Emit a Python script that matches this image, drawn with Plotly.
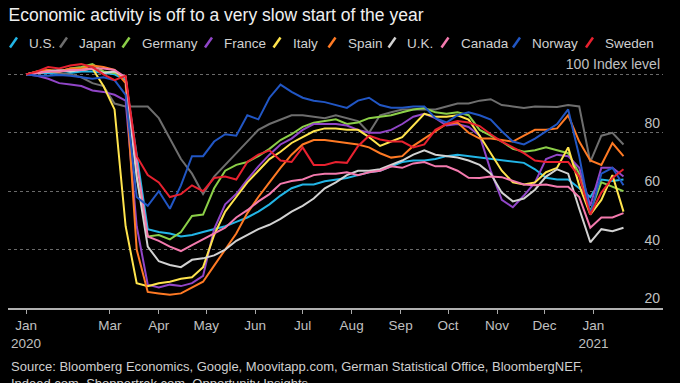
import pandas as pd
import plotly.graph_objects as go

# weekly observation dates (first observation 2020-01-08, last 2021-01-20)
DATES = pd.date_range("2020-01-08", periods=55, freq="7D")

COUNTRIES = ["U.S.", "Japan", "Germany", "France", "Italy", "Spain", "U.K.", "Canada", "Norway", "Sweden"]
COLORS = ["#22b5e6", "#6e6e6e", "#8ccf48", "#9146c8", "#ffe44d", "#ff7a24", "#d2d2d2", "#f47aae", "#2156c4", "#e8212f"]

US = [100, 100.5, 100.5, 100, 100.5, 101, 101, 100.5, 100, 98,
      72, 47, 46, 45.5, 44.5, 45, 46, 47, 48, 49.5,
      51, 53, 55.5, 58.5, 61, 62.3, 62.3, 63.4, 64, 64.5,
      65.5, 66.5, 67, 68.5, 70, 70.5, 70.5, 71, 72, 72.5,
      72, 71.5, 71, 70.5, 70, 69.7, 67.5, 64.6, 64, 64,
      61, 58, 64, 63.5, 64]
JAPAN = [100, 100.5, 101, 100.5, 100, 99, 97, 96, 90, 89,
         89, 89, 85, 78, 71, 66, 59, 65, 69, 73,
         77, 81, 83, 84.5, 86, 86, 85.5, 85, 86, 85,
         84, 80, 86, 87, 88, 88, 88, 88, 89, 90,
         90, 91, 91.5, 89.5, 89, 88.5, 89, 89, 88.8, 89.5,
         89, 70, 79, 80, 76]
GERMANY = [100, 101, 101.5, 101, 102, 102.5, 103.5, 101, 100.5, 99,
           65, 44.5, 45, 43.5, 46, 51.5, 52, 61, 67, 69,
           70, 72, 74.5, 77.5, 79.5, 82, 83.4, 84, 84.6, 83,
           83.5, 85, 85.5, 86, 87, 88, 88.5, 87, 86.5, 87,
           86, 81, 79, 77, 74.5, 73.5, 74, 75, 74, 73,
           66, 53, 63, 61.5, 60]
FRANCE = [100, 99.5, 98.5, 97, 96.5, 96, 94.5, 94, 93, 91,
          48, 28, 27, 28, 27.5, 28.5, 31, 47, 55.5, 59,
          64, 68.5, 72.5, 76, 78, 81, 83, 83, 83, 82.5,
          81, 80, 80, 81, 83, 85.5, 86.5, 85, 82.5, 83,
          82, 79, 67, 57, 54.5, 58.5, 63, 71, 72.5, 72,
          68, 55, 68, 68, 65]
ITALY = [100, 100.5, 101, 101, 101.5, 101.5, 102, 96, 88, 48,
         28.5, 27.5, 28.5, 29, 30, 30.5, 34, 45, 53, 58,
         63, 67, 71, 73.5, 76.5, 78.5, 80.5, 81.5, 81.5, 81,
         81, 78.5, 75.5, 77, 78.5, 82.5, 86.5, 85.5, 85.5, 86,
         84.5, 79, 73, 67, 63, 62.3, 63, 66.5, 68, 75,
         62, 52, 57, 65.5, 53]
SPAIN = [100, 101, 101.5, 101, 102, 102, 103, 102.5, 101.5, 97,
         40, 25.5, 25, 24.5, 25, 27, 29, 34.5, 40, 45.5,
         52.5, 58, 63, 68, 72.5, 76, 77.5, 77.5, 77, 76.5,
         76, 75, 73, 71.5, 72, 75.5, 78, 80.5, 83, 83.5,
         80, 78, 78, 77.5, 77, 79, 81, 81, 81.5, 86,
         77, 70.5, 69, 76.5, 72]
UK = [100, 100.5, 101, 101.5, 101, 101.5, 102, 100.5, 101, 99,
      65, 41, 36, 34.7, 34, 36.5, 37, 38, 40, 43,
      45, 47, 48.5, 50.5, 53, 55, 57.5, 61, 63, 65.5,
      67, 67, 67.5, 69, 70.5, 72.5, 74, 72.5, 72, 71.5,
      70.5, 69, 66, 59.5, 56.5, 57.5, 60.5, 65, 67.5, 66,
      54, 42.5, 47, 46.3, 47.5]
CANADA = [100, 100.5, 101, 101, 101.5, 101.5, 102, 102, 101.5, 99,
          70, 44.5, 43, 41, 39.5, 41.5, 43.5, 45.5, 47.5, 51,
          53.5, 56.5, 59, 62.5, 63.5, 64, 65.5, 66, 66, 66.5,
          65.5, 66.5, 67, 68.5, 68, 69.5, 70, 68.5, 68.5, 67,
          64.6, 64.5, 65, 64.8, 63.5, 62.3, 62, 62.3, 61.5, 61.5,
          58, 47.5, 51, 51, 52.5]
NORWAY = [100, 99.5, 99.5, 99.8, 99.5, 99, 98.5, 99, 98, 93,
          58, 55, 60, 54, 62, 72, 72, 77, 79.5, 79,
          86, 84.6, 92, 96.5, 94, 92, 91, 90.5, 89.5, 88.5,
          91, 92, 89.5, 88.6, 88.6, 89, 89, 85, 83.5, 86,
          87, 86, 84.5, 80.5, 77, 76, 78, 80.5, 83, 88,
          72, 52, 66, 68, 62]
SWEDEN = [100, 101, 102.5, 102, 103, 103.5, 102.5, 100, 98, 99.5,
          72, 65.5, 63, 58, 59, 62, 60, 64.5, 65, 64,
          70, 72.5, 74, 70.5, 70, 75, 69, 69, 70, 69.7,
          75.4, 79, 77.7, 77, 77, 75, 76, 81, 83, 84,
          83.5, 82.3, 79.5, 77, 75, 73, 70.5, 70, 70, 70,
          65, 52, 59.5, 64.5, 67.5]

SERIES = [US, JAPAN, GERMANY, FRANCE, ITALY, SPAIN, UK, CANADA, NORWAY, SWEDEN]

X_TICKVALS = ["2020-01-08", "2020-03-01", "2020-04-01", "2020-05-01", "2020-06-01", "2020-07-01",
              "2020-08-01", "2020-09-01", "2020-10-01", "2020-11-01", "2020-12-01", "2021-01-01"]
X_TICKTEXT = ["Jan<br>2020", "Mar", "Apr", "May", "Jun", "Jul", "Aug", "Sep", "Oct", "Nov", "Dec", "Jan<br>2021"]
Y_TICKVALS = [20, 40, 60, 80, 100]
Y_TICKTEXT = ["20", "40", "60", "80", "100 Index level"]

TITLE = "Economic activity is off to a very slow start of the year"
SOURCE = ("Source: Bloomberg Economics, Google, Moovitapp.com, German Statistical Office, BloombergNEF,<br>"
          "Indeed.com, Shoppertrak.com, Opportunity Insights")

FONT = "Liberation Sans, Arial, sans-serif"
W, H = 680, 383
Y_MIN, Y_MAX = 20, 108
ML, MR, MB = 8, 17, 75
MT = round(H - MB - (Y_MAX - Y_MIN) * 2.918)
PW, PH = W - ML - MR, H - MT - MB

def px_x(p):
    return (p - ML) / PW

def px_y(p):
    return (H - MB - p) / PH

fig = go.Figure()
for name, vals, col in zip(COUNTRIES, SERIES, COLORS):
    fig.add_trace(go.Scatter(x=DATES, y=vals, name=name, mode="lines",
                             line=dict(color=col, width=2), showlegend=False))

# custom legend (slanted glyph + label)
LEG_TEXT_X = [27, 77, 139.5, 222, 290.5, 345.5, 405.5, 458.5, 530, 603]
annotations = []
shapes = []
for name, col, tx in zip(COUNTRIES, COLORS, LEG_TEXT_X):
    gx = tx - 17
    shapes.append(dict(type="line", xref="paper", yref="paper",
                       x0=px_x(gx), y0=px_y(47.5), x1=px_x(gx + 7), y1=px_y(37.5),
                       line=dict(color=col, width=2.5)))
    annotations.append(dict(text=name, xref="paper", yref="paper", x=px_x(tx), y=px_y(43),
                            xanchor="left", yanchor="middle", showarrow=False,
                            font=dict(family=FONT, size=13.5, color="#d0d0d0")))

annotations.append(dict(text=SOURCE, xref="paper", yref="paper", x=px_x(8.5), y=px_y(357),
                        xanchor="left", yanchor="top", align="left", showarrow=False,
                        font=dict(family=FONT, size=13, color="#cfcfcf")))

fig.update_layout(
    width=W, height=H,
    margin=dict(l=ML, r=MR, t=MT, b=MB, pad=0, autoexpand=False),
    paper_bgcolor="#000000", plot_bgcolor="#000000",
    title=dict(text=TITLE, x=8.5 / W, xanchor="left", xref="container",
               y=1 - 15 / H, yanchor="middle", yref="container",
               font=dict(family=FONT, size=17.5, color="#f0f0f0")),
    annotations=annotations, shapes=shapes,
    xaxis=dict(type="date", range=["2019-12-27 14:00", "2021-02-14"],
               tickvals=X_TICKVALS, ticktext=X_TICKTEXT, automargin=False,
               ticklabeloverflow="allow",
               ticks="outside", ticklen=4, tickcolor="#aaaaaa", tickwidth=1,
               showline=True, linecolor="#b0b0b0", linewidth=1.5,
               showgrid=False, zeroline=False,
               tickfont=dict(family=FONT, size=13.5, color="#c0c0c0")),
    yaxis=dict(range=[Y_MIN, Y_MAX], side="right", tickvals=Y_TICKVALS, ticktext=Y_TICKTEXT,
               ticklabelposition="inside top", ticks="", automargin=False,
               ticklabeloverflow="allow",
               showgrid=True, gridcolor="#6a6a6a", griddash="dot", gridwidth=1,
               showline=False, zeroline=False,
               tickfont=dict(family=FONT, size=14, color="#c0c0c0")),
)

fig.write_html("out.html", config={"displayModeBar": False},
               post_script="document.body.style.margin='0';document.body.style.background='#000';")
